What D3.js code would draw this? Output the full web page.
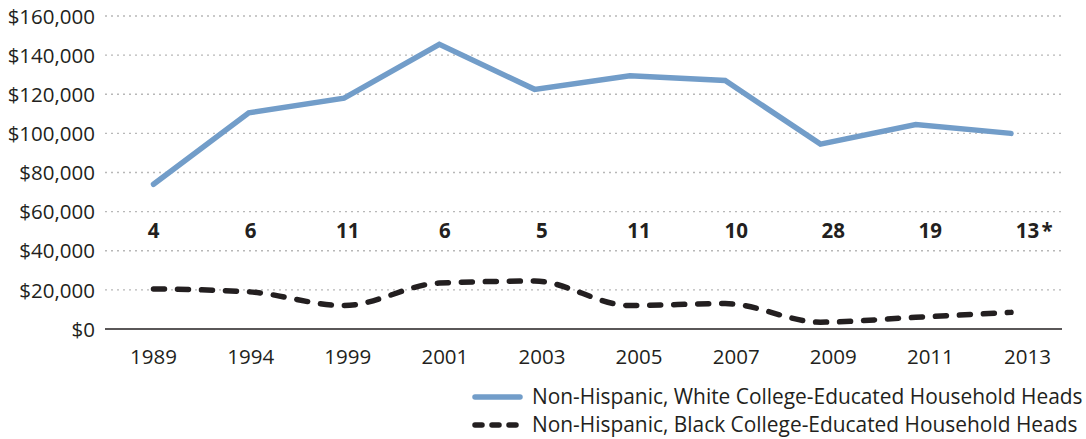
<!DOCTYPE html>
<html>
<head>
<meta charset="utf-8">
<script src="https://cdn.jsdelivr.net/npm/d3@7"></script>
<style>
  html, body { margin: 0; padding: 0; background: #fff; }
  svg { display: block; }
  text { font-family: "Open Sans", "Noto Sans", sans-serif; fill: #231f20; }
</style>
</head>
<body>
<svg id="chart" width="1086" height="439"></svg>
<script>
const years = ["1989","1994","1999","2001","2003","2005","2007","2009","2011","2013"];
const whiteValues = [74000,110500,118000,145500,122500,129500,127000,94500,104500,100000];
const blackValues = [20500,19000,12000,23500,24500,12000,13000,3500,6000,8500];
const counts = ["4","6","11","6","5","11","10","28","19","13"];
const yTicks = [0,20000,40000,60000,80000,100000,120000,140000,160000];
const seriesNames = [
  "Non-Hispanic, White College-Educated Household Heads",
  "Non-Hispanic, Black College-Educated Household Heads"
];

(function() {
const svg = d3.select("#chart");
const mLeft = 105, mRight = 1062, mTop = 16, mBottom = 329;

const y = d3.scaleLinear().domain([0,160000]).range([mBottom, mTop]);
const x = d3.scalePoint().domain(years).range([153.5, 1011]);
const xLab = d3.scaleBand().domain(years).range([105, 1076]).padding(0);

// gridlines
svg.append("g").selectAll("line")
  .data(yTicks.filter(d => d > 0))
  .join("line")
  .attr("x1", mLeft).attr("x2", mRight)
  .attr("y1", d => y(d)).attr("y2", d => y(d))
  .attr("stroke", "#b8b8b8").attr("stroke-width", 1.4)
  .attr("stroke-dasharray", "2,4");

// y axis labels
const yAxis = d3.axisLeft(y).tickValues(yTicks).tickSize(0).tickPadding(0)
  .tickFormat(d => "$" + d3.format(",")(d));
svg.append("g").attr("transform", "translate(95,0)").call(yAxis)
  .call(g => g.select(".domain").remove())
  .call(g => g.selectAll("text").attr("font-size", 20.5)
    .attr("font-family", '"Open Sans", sans-serif').attr("fill", "#231f20").attr("dy", "0.35em"));

// x axis baseline
svg.append("line").attr("x1", mLeft).attr("x2", mRight)
  .attr("y1", y(0)).attr("y2", y(0)).attr("stroke", "#231f20").attr("stroke-width", 1.3);

// x labels
const xAxis = d3.axisBottom(xLab).tickSize(0).tickPadding(0);
svg.append("g").attr("transform", `translate(0,${y(0)})`).call(xAxis)
  .call(g => g.select(".domain").remove())
  .call(g => g.selectAll("text").attr("font-size", 20.5)
    .attr("font-family", '"Open Sans", sans-serif').attr("fill", "#231f20")
    .attr("y", 28).attr("dy", "0.35em"));

// count labels
svg.append("g").selectAll("text").data(counts).join("text")
  .attr("x", (d,i) => xLab(years[i]) + xLab.bandwidth()/2)
  .attr("y", 231).attr("dy", "0.35em")
  .attr("text-anchor", "middle").attr("font-size", 20.5).attr("font-weight", 700)
  .text(d => d);
svg.append("text")
  .attr("x", xLab(years[years.length-1]) + xLab.bandwidth()/2 + 14)
  .attr("y", 231).attr("dy", "0.35em")
  .attr("font-size", 20.5).attr("font-weight", 700).text("*");

// lines
const whiteLine = d3.line().x((d,i) => x(years[i])).y(d => y(d));
svg.append("path").datum(whiteValues)
  .attr("d", whiteLine).attr("fill", "none")
  .attr("stroke", "#729dc9").attr("stroke-width", 5.5)
  .attr("stroke-linejoin", "miter").attr("stroke-linecap", "round");

const blackLine = d3.line().x((d,i) => x(years[i])).y(d => y(d)).curve(d3.curveMonotoneX);
svg.append("path").datum(blackValues)
  .attr("d", blackLine).attr("fill", "none")
  .attr("stroke", "#231f20").attr("stroke-width", 5.5)
  .attr("stroke-dasharray", "11,13").attr("stroke-linecap", "round");

// legend
const leg = svg.append("g");
const legY = [397, 425];
leg.append("line").attr("x1", 475).attr("x2", 520).attr("y1", legY[0]).attr("y2", legY[0])
  .attr("stroke", "#729dc9").attr("stroke-width", 5.5).attr("stroke-linecap", "round");
leg.append("line").attr("x1", 475).attr("x2", 520).attr("y1", legY[1]).attr("y2", legY[1])
  .attr("stroke", "#231f20").attr("stroke-width", 5.5).attr("stroke-linecap", "round")
  .attr("stroke-dasharray", "7,10");
leg.selectAll("text").data(seriesNames).join("text")
  .attr("x", 532).attr("y", (d,i) => legY[i]).attr("dy", "0.35em")
  .attr("font-size", 20.9).text(d => d);
})();
</script>
</body>
</html>
